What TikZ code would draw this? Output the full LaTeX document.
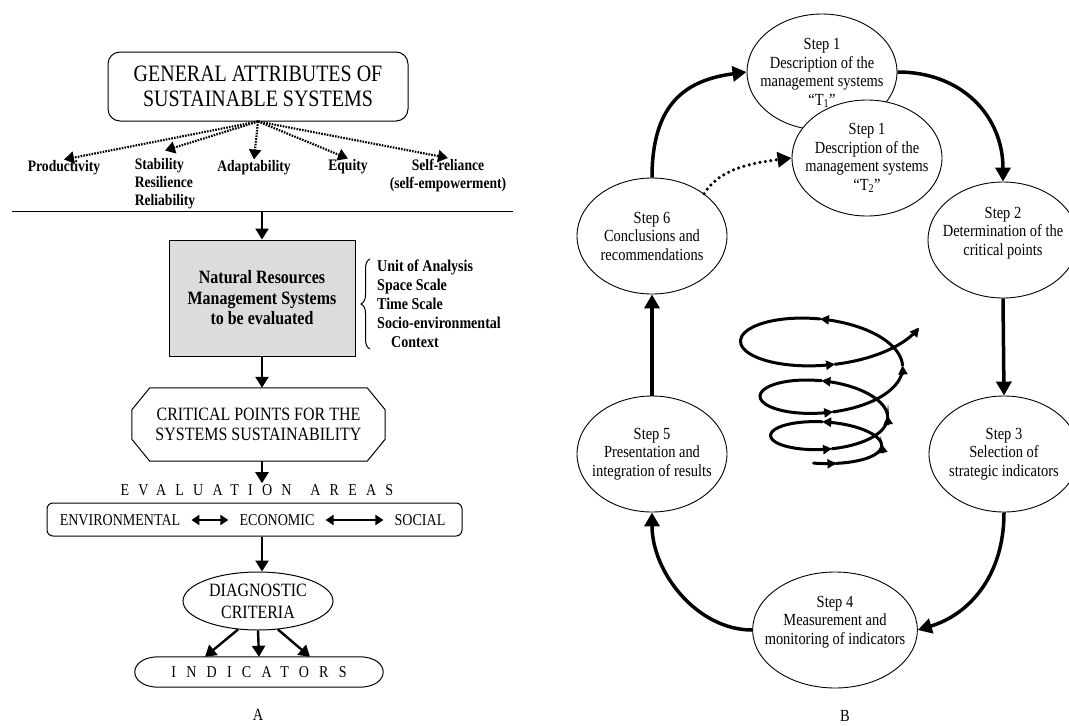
\documentclass[tikz,border=0pt]{standalone}
\usepackage{fontspec}
\setmainfont{Liberation Serif}[FakeStretch=0.85]
\usetikzlibrary{arrows.meta,calc,shapes.geometric,decorations.pathreplacing}
\definecolor{boxgray}{RGB}{220,220,220}
\tikzset{
  titlebox/.style={draw,line width=1pt,rounded corners=12pt,minimum width=300pt,minimum height=69pt,align=center,font=\fontsize{23.5}{25}\selectfont},
  attr/.style={align=center,inner sep=1pt,font=\fontsize{16}{18}\selectfont\bfseries},
  attrarrow/.style={dash pattern=on 1.6pt off 1.2pt,line width=2.2pt,-{Triangle[length=10pt,width=12pt]}},
  sepline/.style={line width=1pt},
  flow/.style={line width=2.4pt,-{Triangle[length=11pt,width=13pt]}},
  dblarrow/.style={line width=2.2pt,{Triangle[length=8pt,width=10pt]}-{Triangle[length=8pt,width=10pt]},shorten <=11pt,shorten >=11pt},
  graybox/.style={draw,line width=1pt,fill=boxgray,minimum width=186pt,minimum height=116pt,align=center,font=\fontsize{18.8}{20.5}\selectfont\bfseries},
  scalelist/.style={align=left,inner sep=1pt,anchor=west,font=\fontsize{16.5}{19}\selectfont\bfseries},
  scalebrace/.style={decorate,decoration={brace,amplitude=9pt},line width=1pt},
  critbox/.style={minimum width=253pt,minimum height=73pt,align=center,font=\fontsize{18.8}{20.5}\selectfont},
  outline/.style={line width=1pt},
  spaced/.style={inner sep=1pt,font={\fontsize{16.5}{18}\selectfont\addfontfeatures{LetterSpace=#1}}},
  areabox/.style={draw,line width=1pt,rounded corners=6pt,minimum width=415pt,minimum height=33pt},
  areatext/.style={inner sep=0pt,font=\fontsize{16.5}{18}\selectfont},
  diagell/.style={ellipse,draw,line width=1pt,minimum width=150pt,minimum height=58pt,inner sep=0pt,align=center,font=\fontsize{18.8}{22}\selectfont},
  indbox/.style={minimum width=200pt,minimum height=30pt,inner sep=0pt},
  panel/.style={font=\fontsize{17}{19}\selectfont},
  stepnode/.style={ellipse,draw,line width=0.9pt,fill=white,minimum width=150pt,minimum height=116pt,inner xsep=-12pt,inner ysep=0pt,align=center,font=\fontsize{17}{18.5}\selectfont},
  cyc/.style={line width=3.5pt,-{Triangle[length=14pt,width=15pt]}},
  dotarrow/.style={line width=3.5pt,line cap=round,dash pattern=on 0pt off 5.5pt,-{Triangle[length=14pt,width=15pt]}},
  spiralseg/.style={line width=3pt,line cap=round,-{Triangle[length=9pt,width=9pt]}}
}
\newcommand{\spx}{{827+(54.5-0.75*(\x/360)+4.5*(\x/360)*(\x/360))*sin(\x)}}
\newcommand{\spy}{{448+1.473*(\x/360+(1-cos(\x))/6.2832)-18.769*(\x/360+(1-cos(\x))/6.2832)*(\x/360+(1-cos(\x))/6.2832)+1.889*(\x/360+(1-cos(\x))/6.2832)*(\x/360+(1-cos(\x))/6.2832)*(\x/360+(1-cos(\x))/6.2832)+(15.6-\x/360+2*(\x/360)*(\x/360))*cos(\x)}}

\begin{document}
\begin{tikzpicture}[x=1pt,y=-1pt]
\useasboundingbox (0,0) rectangle (1069,726);

\node[titlebox] (gen) at (258,86.5) {GENERAL ATTRIBUTES OF\\SUSTAINABLE SYSTEMS};
\node[attr] (prod) at (64,168) {Productivity};
\node[attr,align=left] (stab) at (165,184) {Stability\\Resilience\\Reliability};
\node[attr] (adapt) at (254,168) {Adaptability};
\node[attr] (equ) at (348,167) {Equity};
\node[attr] (selfr) at (448,175.5) {Self-reliance\\(self-empowerment)};
\foreach \t in {prod,adapt,equ,selfr}
  \draw[attrarrow] (gen.south) -- (\t.north);
\draw[attrarrow] (gen.south) -- ([yshift=7pt]stab.north);

\coordinate (sepL) at (12,211);
\coordinate (sepR) at (513,211);
\coordinate (sepmid) at (262,211);
\draw[sepline] (sepL) -- (sepR);

\node[graybox] (nrms) at (262,298) {Natural Resources\\Management Systems\\to be evaluated};
\node[scalelist] (scl) at (376,304) {Unit of Analysis\\Space Scale\\Time Scale\\Socio-environmental\\\hspace*{14pt}Context};
\draw[scalebrace] ([xshift=-6pt]scl.south west) -- ([xshift=-6pt]scl.north west);

\node[critbox] (crit) at (258.5,424.5) {CRITICAL POINTS FOR THE\\SYSTEMS SUSTAINABILITY};
\draw[outline] ([xshift=18pt]crit.north west) -- ([xshift=-18pt]crit.north east) -- ([yshift=-22pt]crit.north east)
  -- ([yshift=22pt]crit.south east) -- ([xshift=-18pt]crit.south east) -- ([xshift=18pt]crit.south west)
  -- ([yshift=22pt]crit.south west) -- ([yshift=-22pt]crit.north west) -- cycle;

\node[spaced=56] (evallab) at (257,490) {EVALUATION\hspace{6pt} AREAS};
\node[areabox] (areas) at (254.5,519.5) {};
\node[areatext] (env) at (120,520) {ENVIRONMENTAL};
\node[areatext] (eco) at (277,520) {ECONOMIC};
\node[areatext] (soc) at (420,520) {SOCIAL};
\draw[dblarrow] (env) -- (eco);
\draw[dblarrow] (eco) -- (soc);

\node[diagell] (diag) at (258,601) {DIAGNOSTIC\\CRITERIA};
\node[indbox,spaced=62] (ind) at (259,672) {INDICATORS};
\draw[outline] (ind.north west) -- (ind.north east) .. controls +(32,0) and +(32,0) .. (ind.south east)
  -- (ind.south west) .. controls +(-32,0) and +(-32,0) .. (ind.north west) -- cycle;

\draw[flow] (sepmid) -- (nrms.north);
\draw[flow] (nrms.south) -- (nrms.south |- crit.north);
\draw[flow] (nrms.south |- crit.south) -- (nrms.south |- evallab.north);
\draw[flow] (nrms.south |- areas.south) -- (nrms.south |- diag.north);
\draw[flow] (diag.235) -- ([xshift=-54pt]ind.north);
\draw[flow] (diag.south) -- (ind.north);
\draw[flow] (diag.305) -- ([xshift=51pt]ind.north);

\node[panel] (labA) at (258,715) {A};
\node[panel] (labB) at (845,716) {B};

\node[stepnode,text depth=0pt] (st1a) at (822,72) {Step 1\\Description of the\\management systems\\``T\textsubscript{1}''};
\node[stepnode] (st1b) at (867,158) {Step 1\\Description of the\\management systems\\``T\textsubscript{2}''};
\node[stepnode,text depth=18pt] (st2) at (1003,240) {Step 2\\Determination of the\\critical points};
\node[stepnode] (st3) at (1004,454) {Step 3\\Selection of\\strategic indicators};
\node[stepnode,text depth=20pt] (st4) at (835,630) {Step 4\\Measurement and\\monitoring of indicators};
\node[stepnode] (st5) at (652,454) {Step 5\\Presentation and\\integration of results};
\node[stepnode] (st6) at (652,236) {Step 6\\Conclusions and\\recommendations};

\draw[cyc] (st6.north) .. controls +(0,-75) and +(-60,8) .. (st1a.west);
\draw[cyc] (st1a.east) .. controls +(65,0) and +(0,-65) .. (st2.north);
\draw[cyc] (st2.south) -- (st3.north);
\draw[cyc] (st3.south) .. controls +(0,65) and +(50,-15) .. (st4.east);
\draw[cyc] (st4.west) .. controls +(-55,0) and +(0,60) .. (st5.south);
\draw[cyc] (st5.north) -- (st6.south);
\draw[dotarrow] (st6.39) .. controls +(15,-25) and +(-40,5) .. (st1b.west);

\foreach \ta/\tb in {-14.3/10,10/95,95/185,185/365,365/455,455/545,545/725,725/815,815/905,905/1085,1085/1150}
  \draw[spiralseg] plot[domain=\ta:\tb,samples=24,smooth] (\spx,\spy);
\end{tikzpicture}
\end{document}
